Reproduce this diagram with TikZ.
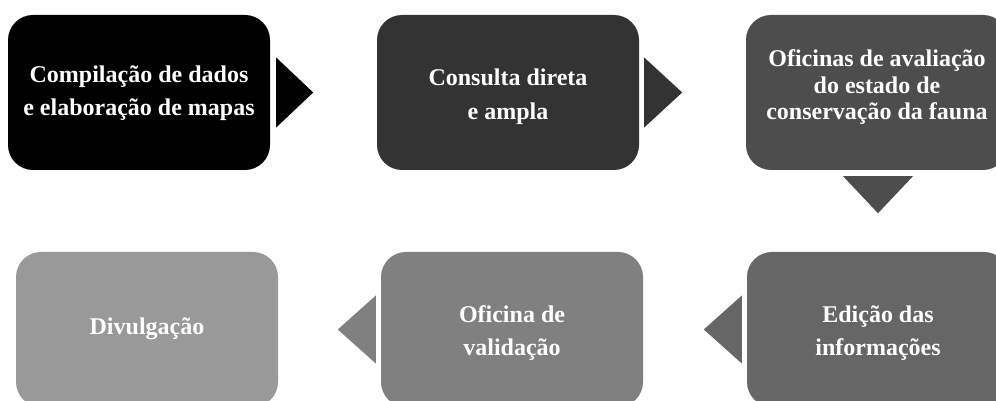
\documentclass[tikz,border=0pt]{standalone}
\usepackage{fontspec}
\setmainfont{Liberation Serif}
\usetikzlibrary{calc}
\definecolor{cA}{HTML}{000000}
\definecolor{cB}{HTML}{333333}
\definecolor{cC}{HTML}{4D4D4D}
\definecolor{cD}{HTML}{666666}
\definecolor{cE}{HTML}{808080}
\definecolor{cF}{HTML}{999999}
\begin{document}
\begin{tikzpicture}[x=1pt,y=1pt,
  box/.style={rectangle, rounded corners=25pt, minimum width=262pt, minimum height=155pt, inner sep=0pt, draw=none},
  lbl/.style={text=white, font=\bfseries\fontsize{24}{33}\selectfont, align=center, inner sep=0pt},
  chev/.style={draw=none}]
\useasboundingbox (0,0) rectangle (996,401);
\clip (0,0) rectangle (996,401);
% boxes
\node[box, fill=cA] (b1) at (139,308.5) {};
\node[box, fill=cB] (b2) at (508,308.5) {};
\node[box, fill=cC] (b3) at (877,308.5) {};
\node[box, fill=cD] (b4) at (878,71.5) {};
\node[box, fill=cE] (b5) at (512,71.5) {};
\node[box, fill=cF] (b6) at (147,71.5) {};
% labels
\node[lbl] (t1) at ($(b1.center)+(0,-1)$) {Compilação de dados\\e elaboração de mapas};
\node[lbl, font=\bfseries\fontsize{24}{34}\selectfont] (t2) at ($(b2.center)+(0,-4)$) {Consulta direta\\e ampla};
\node[lbl, font=\bfseries\fontsize{24}{26.5}\selectfont] (t3) at ($(b3.center)+(0,5)$) {Oficinas de avaliação\\do estado de\\conservação da fauna};
\node[lbl] (t4) at ($(b4.center)+(0,-4)$) {Edição das\\informações};
\node[lbl] (t5) at ($(b5.center)+(0,-3.5)$) {Oficina de\\validação};
\node[lbl] (t6) at ($(b6.center)+(0,1)$) {Divulgação};
% chevrons
\fill[cA] ($(b1.east)+(6,35)$) -- ($(b1.east)+(6,-35)$) -- ($(b1.east)+(43,0)$) -- cycle;
\fill[cB] ($(b2.east)+(5,35)$) -- ($(b2.east)+(5,-35)$) -- ($(b2.east)+(43,0)$) -- cycle;
\fill[cC] ($(b3.south)+(-34,-6)$) -- ($(b3.south)+(36,-6)$) -- ($(b3.south)+(1,-43)$) -- cycle;
\fill[cD] ($(b4.west)+(-5,34)$) -- ($(b4.west)+(-5,-34)$) -- ($(b4.west)+(-43,0)$) -- cycle;
\fill[cE] ($(b5.west)+(-5,34)$) -- ($(b5.west)+(-5,-34)$) -- ($(b5.west)+(-43,0)$) -- cycle;
\end{tikzpicture}
\end{document}
